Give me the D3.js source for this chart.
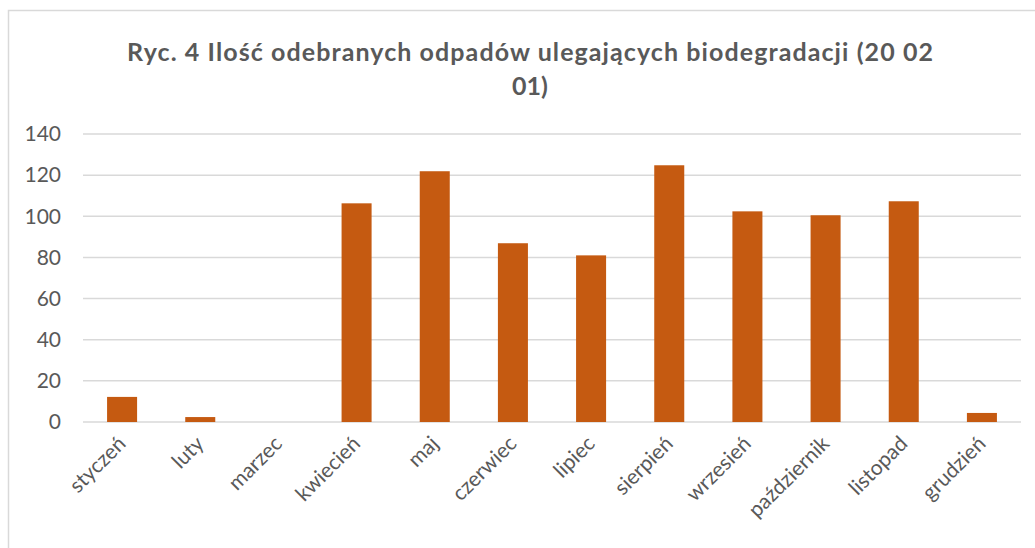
<!DOCTYPE html>
<html>
<head>
<meta charset="utf-8">
<script src="https://cdn.jsdelivr.net/npm/d3@7"></script>
<style>
  body { margin: 0; background: #fff; }
  svg { display: block; }
</style>
</head>
<body>
<svg id="canvas" width="1035" height="548"></svg>
<script>
const months = ['styczeń', 'luty', 'marzec', 'kwiecień', 'maj', 'czerwiec', 'lipiec', 'sierpień', 'wrzesień', 'październik', 'listopad', 'grudzień'];
const values = [12.2, 2.4, 0, 106.3, 121.9, 86.9, 81, 124.8, 102.4, 100.5, 107.3, 4.4];
const yTicks = [0, 20, 40, 60, 80, 100, 120, 140];
const titleLines = ['Ryc. 4 Ilość odebranych odpadów ulegających biodegradacji (20 02', '01)'];

let canvas = d3.select('#canvas');
const font = 'Lato, "Open Sans", sans-serif';
const grey = '#595959';

// chart frame
canvas.append('rect')
    .attr('x', 8.5).attr('y', 10.5)
    .attr('width', 1040).attr('height', 560)
    .attr('fill', 'none')
    .attr('stroke', '#d9d9d9')
    .attr('stroke-width', 1.5);

let x = d3.scaleBand().domain(months).range([83, 1021]).paddingInner(0.616).paddingOuter(0.308);
let y = d3.scaleLinear().domain([0, 140]).range([422, 134]);

// gridlines
canvas.selectAll('.grid')
    .data(yTicks)
    .enter()
    .append('line')
    .attr('class', 'grid')
    .attr('x1', 83).attr('x2', 1021)
    .attr('y1', d => y(d)).attr('y2', d => y(d))
    .attr('stroke', '#d9d9d9')
    .attr('stroke-width', 1.5);

// y labels
canvas.selectAll('.ylab')
    .data(yTicks)
    .enter()
    .append('text')
    .attr('class', 'ylab')
    .attr('x', 61)
    .attr('y', d => y(d))
    .attr('dy', '0.35em')
    .attr('text-anchor', 'end')
    .attr('fill', grey)
    .style('font-family', font)
    .style('font-size', '21px')
    .text(d => d);

// bars
canvas.selectAll('.bar')
    .data(values)
    .enter()
    .append('rect')
    .attr('class', 'bar')
    .attr('x', (d, i) => x(months[i]))
    .attr('y', d => y(d))
    .attr('width', x.bandwidth())
    .attr('height', d => y(0) - y(d))
    .attr('fill', '#c55a11');

// x labels
canvas.selectAll('.xlab')
    .data(months)
    .enter()
    .append('text')
    .attr('class', 'xlab')
    .attr('transform', d => 'translate(' + (x(d) + x.bandwidth() / 2 + 5) + ',445) rotate(-45)')
    .attr('text-anchor', 'end')
    .attr('fill', grey)
    .style('font-family', font)
    .style('font-size', '21px')
    .text(d => d);

// title
canvas.selectAll('.title')
    .data(titleLines)
    .enter()
    .append('text')
    .attr('class', 'title')
    .attr('x', 530)
    .attr('y', (d, i) => 61 + i * 34)
    .attr('text-anchor', 'middle')
    .attr('textLength', (d, i) => i == 0 ? 806 : null)
    .attr('lengthAdjust', 'spacing')
    .attr('fill', grey)
    .style('font-family', font)
    .style('font-weight', 'bold')
    .style('font-size', '25px')
    .text(d => d);
</script>
</body>
</html>
